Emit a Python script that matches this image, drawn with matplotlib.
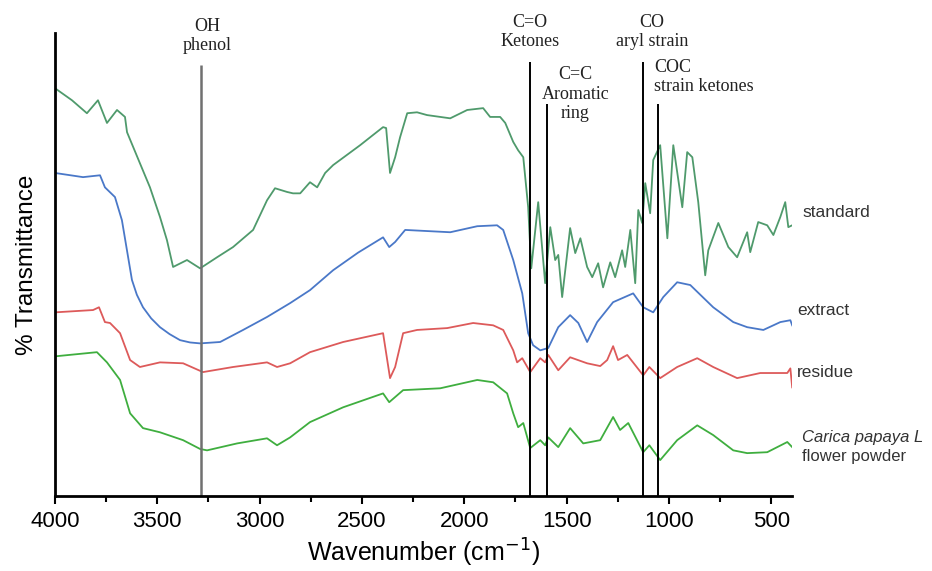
import matplotlib
matplotlib.use("Agg")
import matplotlib.pyplot as plt
from matplotlib.ticker import MultipleLocator


plt.rcParams["font.family"] = ["Liberation Sans", "DejaVu Sans"]

# spectra (transmittance in arbitrary offset units)
standard_wn = [
    4000, 3917, 3844, 3790, 3746, 3697, 3658, 3648, 3585, 3536, 3487, 3453,
    3423, 3355, 3291, 3208, 3130, 3032, 2964, 2925, 2866, 2837, 2802, 2754,
    2719, 2680, 2641, 2509, 2446, 2397, 2382, 2363, 2338, 2314, 2279, 2231,
    2182, 2069, 1986, 1908, 1874, 1825, 1800, 1761, 1737, 1712, 1688, 1673,
    1639, 1605, 1580, 1556, 1541, 1522, 1483, 1458, 1433, 1400, 1375, 1346,
    1322, 1287, 1263, 1229, 1214, 1189, 1165, 1150, 1131, 1116, 1092, 1077,
    1043, 1008, 979, 935, 911, 886, 857, 823, 808, 759, 710, 667, 618, 603,
    564, 520, 490, 456, 432, 417, 398
]
standard_t = [
    88.1, 85.5, 82.7, 85.5, 80.6, 83.4, 81.9, 78.6, 71.9, 66.7, 60.3, 55.3,
    49.5, 51.0, 49.2, 51.6, 53.8, 57.5, 63.9, 66.5, 65.7, 65.4, 65.4, 67.8,
    66.7, 69.8, 71.5, 75.8, 78.0, 79.7, 79.5, 69.8, 73.2, 77.5, 82.7, 82.9,
    82.3, 81.6, 83.4, 83.8, 81.9, 81.9, 80.6, 76.5, 74.7, 73.2, 62.4, 49.2,
    63.5, 46.0, 58.1, 51.0, 52.1, 43.0, 57.9, 52.5, 55.7, 49.5, 47.3, 50.3,
    45.1, 50.5, 47.3, 53.1, 49.5, 57.5, 46.0, 61.8, 59.0, 67.6, 61.1, 72.6,
    75.8, 55.7, 75.8, 62.4, 74.3, 73.2, 63.5, 47.7, 53.1, 59.0, 53.8, 51.6,
    57.0, 52.7, 59.2, 58.5, 56.4, 60.3, 63.5, 58.1, 58.5
]

extract_wn = [
    4000, 3863, 3780, 3756, 3707, 3673, 3624, 3600, 3570, 3530, 3487, 3440,
    3389, 3340, 3291, 3193, 3081, 2964, 2851, 2754, 2641, 2519, 2397, 2367,
    2338, 2289, 2069, 1937, 1840, 1810, 1761, 1717, 1688, 1664, 1629, 1590,
    1541, 1483, 1443, 1400, 1351, 1273, 1175, 1126, 1077, 1028, 960, 896,
    784, 686, 618, 539, 456, 407, 398
]
extract_t = [
    69.8, 68.9, 69.3, 66.7, 64.6, 59.6, 46.7, 43.5, 40.8, 38.4, 36.5, 35.0,
    33.7, 33.2, 33.0, 33.3, 35.9, 38.7, 41.7, 44.5, 48.8, 52.6, 55.9, 53.8,
    54.9, 57.5, 57.0, 58.3, 58.5, 57.5, 51.0, 43.8, 35.2, 32.6, 31.5, 32.0,
    36.5, 39.1, 37.4, 33.3, 37.6, 41.9, 43.8, 40.8, 39.7, 43.0, 46.2, 45.6,
    40.8, 37.6, 36.5, 35.9, 37.6, 38.0, 36.9
]

residue_wn = [
    4000, 3814, 3785, 3756, 3731, 3682, 3633, 3585, 3487, 3374, 3277, 3130,
    2964, 2915, 2851, 2754, 2592, 2397, 2363, 2338, 2299, 2231, 2084, 1957,
    1859, 1810, 1761, 1742, 1717, 1678, 1629, 1605, 1590, 1541, 1483, 1400,
    1336, 1302, 1273, 1249, 1204, 1126, 1096, 1043, 960, 862, 784, 667, 554,
    422, 407, 398
]
residue_t = [
    39.7, 40.2, 40.8, 37.6, 37.4, 35.2, 29.4, 27.9, 28.9, 28.7, 26.8, 27.9,
    28.9, 27.9, 28.7, 31.1, 33.3, 35.2, 25.5, 27.9, 35.2, 35.9, 36.3, 37.4,
    36.9, 35.9, 31.5, 28.9, 29.8, 26.8, 29.8, 28.9, 30.5, 27.2, 30.0, 28.7,
    28.1, 29.4, 32.4, 29.4, 30.5, 26.1, 27.9, 25.5, 27.9, 29.8, 27.9, 25.5,
    26.6, 26.6, 27.6, 23.5
]

powder_wn = [
    4000, 3795, 3746, 3682, 3633, 3570, 3487, 3374, 3291, 3257, 3110, 2964,
    2915, 2851, 2754, 2592, 2397, 2367, 2299, 2118, 1937, 1859, 1791, 1761,
    1737, 1712, 1678, 1629, 1605, 1590, 1541, 1483, 1419, 1336, 1273, 1239,
    1199, 1126, 1096, 1043, 960, 862, 784, 686, 618, 520, 422, 398
]
powder_t = [
    30.2, 31.1, 28.9, 25.1, 17.9, 14.7, 13.8, 12.1, 10.2, 9.9, 11.4, 12.5,
    11.0, 12.7, 16.0, 19.2, 22.2, 20.3, 22.9, 23.3, 25.1, 24.6, 22.2, 17.9,
    14.9, 15.8, 10.4, 12.1, 11.0, 12.7, 10.6, 14.7, 11.4, 12.1, 17.1, 14.3,
    15.8, 9.5, 11.0, 7.8, 12.1, 15.3, 13.2, 9.9, 9.3, 9.5, 11.7, 10.6
]

# band assignments
band_wn = [3287, 1679, 1595, 1126, 1053]
band_top = [93.1, 93.7, 84.7, 93.7, 84.7]
band_colors = ["#707070", "black", "black", "black", "black"]

series_names = ["standard", "extract", "residue"]


fig = plt.figure(figsize=(9.32, 5.71), dpi=100)
ax = fig.add_axes([0.059, 0.131, 0.791, 0.811])

ax.plot(standard_wn, standard_t, color="#4f9a6c", lw=1.3)
ax.plot(extract_wn, extract_t, color="#4a78c8", lw=1.3)
ax.plot(residue_wn, residue_t, color="#dd5a5a", lw=1.3)
ax.plot(powder_wn, powder_t, color="#3fae3f", lw=1.3)

for wn, top, c in zip(band_wn, band_top, band_colors):
    ax.vlines(wn, 0, top, color=c, lw=1.8 if c != "black" else 1.4)

ax.set_xlim(4000, 398)
ax.set_ylim(0, 100)

ax.spines["top"].set_visible(False)
ax.spines["right"].set_visible(False)
ax.spines["left"].set_linewidth(2)
ax.spines["bottom"].set_linewidth(2)

ax.xaxis.set_major_locator(MultipleLocator(500))
ax.xaxis.set_minor_locator(MultipleLocator(250))
ax.tick_params(axis="x", which="major", length=6, width=1.5,
               labelsize=16, pad=5)
ax.tick_params(axis="x", which="minor", length=4, width=1.5)
ax.set_yticks([])

ax.set_xlabel("Wavenumber (cm$^{-1}$)", fontsize=18, labelpad=3)
ax.set_ylabel("% Transmittance", fontsize=17.5, labelpad=12)

serif = "Liberation Serif"
ax.text(3257, 99.4, "OH\nphenol", family=serif, fontsize=13,
        ha="center", va="center", color="#222222")
ax.text(1679, 100.2, "C=O\nKetones", family=serif, fontsize=13,
        ha="center", va="center", color="#222222")
ax.text(1458, 86.8, "C=C\nAromatic\nring", family=serif, fontsize=13,
        ha="center", va="center", color="#222222")
ax.text(1082, 100.2, "CO\naryl strain", family=serif, fontsize=13,
        ha="center", va="center", color="#222222")
ax.text(1072, 90.5, "COC\nstrain ketones", family=serif, fontsize=13,
        ha="left", va="center", color="#222222")

# curve names on the right
ax.text(349, 61.3, series_names[0], fontsize=12.5, va="center",
        color="#333333")
ax.text(373, 40.0, series_names[1], fontsize=12.5, va="center",
        color="#333333")
ax.text(373, 26.8, series_names[2], fontsize=12.5, va="center",
        color="#333333")
ax.text(349, 12.7, "Carica papaya L", fontsize=12, va="center",
        style="italic", color="#333333")
ax.text(349, 8.6, "flower powder", fontsize=12, va="center",
        color="#333333")

plt.savefig("out.png", dpi=100)
